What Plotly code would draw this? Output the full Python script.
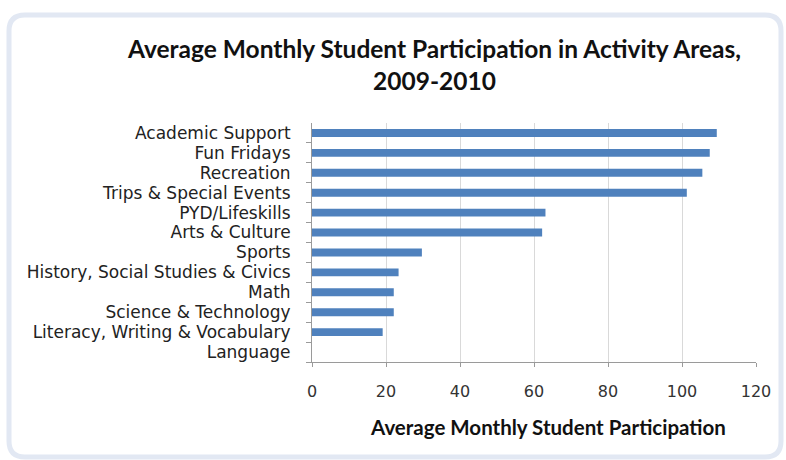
import plotly.graph_objects as go

categories = ["Academic Support", "Fun Fridays", "Recreation", "Trips & Special Events",
              "PYD/Lifeskills", "Arts & Culture", "Sports", "History, Social Studies & Civics",
              "Math", "Science & Technology", "Literacy, Writing & Vocabulary", "Language"]
values = [109.4, 107.5, 105.5, 101.3, 63.1, 62.2, 29.7, 23.4, 22.1, 22.1, 19.1, 0]
x_ticks = [0, 20, 40, 60, 80, 100, 120]

W, H = 786, 460
L, R, T, B = 312, 756, 123, 362

def px(x):
    return (x - L) / (R - L)

def py(y):
    return (B - y) / (B - T)

fig = go.Figure(go.Bar(
    x=values, y=categories, orientation="h",
    marker=dict(color="#4F81BD", line=dict(width=0)),
    width=0.4,
))

font = "Lato, Carlito, Calibri, sans-serif"
wide = "DejaVu Sans, sans-serif"

fig.update_layout(
    width=W, height=H,
    margin=dict(l=L, r=W - R, t=T, b=H - B),
    paper_bgcolor="white", plot_bgcolor="white",
    showlegend=False,
    font=dict(family=font, color="#222222"),
    xaxis=dict(range=[0, 120], tickvals=x_ticks, showgrid=True, gridcolor="#d9d9d9",
               gridwidth=1, zeroline=False, showline=True, linecolor="#9a9a9a",
               ticks="outside", ticklen=4, tickcolor="#9a9a9a",
               ticklabelstandoff=11,
               tickfont=dict(size=16, color="#333333", family=wide)),
    yaxis=dict(categoryorder="array", categoryarray=categories[::-1],
               tickmode="array", tickvals=categories, ticktext=categories,
               showline=True, linecolor="#9a9a9a", ticks="outside", ticklen=5,
               tickcolor="#9a9a9a", tickson="boundaries", showgrid=False,
               tickfont=dict(size=17, color="#222222", family=wide),
               ticklabelstandoff=17),
)

fig.add_annotation(text="<b>Average Monthly Student Participation in Activity Areas,<br>2009-2010</b>",
                   x=px(434), y=py(65), xref="paper", yref="paper", showarrow=False,
                   font=dict(size=24.5, family=font, color="#111111"), align="center",
                   xanchor="center", yanchor="middle")
fig.add_annotation(text="<b>Average Monthly Student Participation</b>",
                   x=px(548), y=py(427), xref="paper", yref="paper", showarrow=False,
                   font=dict(size=20.5, family=font, color="#111111"),
                   xanchor="center", yanchor="middle")

# rounded frame
x0, x1, y0, y1, r = 9, 781, 15, 457, 16
path = (f"M {px(x0)},{py(y0 + r)} Q {px(x0)},{py(y0)} {px(x0 + r)},{py(y0)} "
        f"L {px(x1 - r)},{py(y0)} Q {px(x1)},{py(y0)} {px(x1)},{py(y0 + r)} "
        f"L {px(x1)},{py(y1 - r)} Q {px(x1)},{py(y1)} {px(x1 - r)},{py(y1)} "
        f"L {px(x0 + r)},{py(y1)} Q {px(x0)},{py(y1)} {px(x0)},{py(y1 - r)} Z")
fig.add_shape(type="path", path=path, xref="paper", yref="paper",
              line=dict(color="#e2e8f3", width=5), layer="below")

fig.write_html("out.html", config={"displayModeBar": False},
               post_script="document.body.style.margin='0';")
